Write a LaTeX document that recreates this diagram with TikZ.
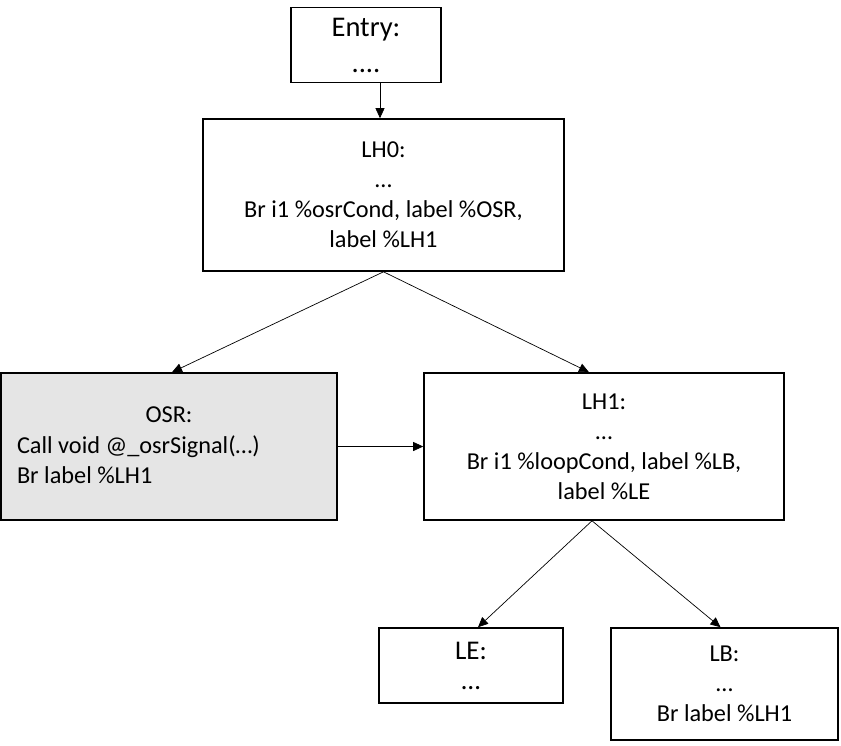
\documentclass[tikz,border=0pt]{standalone}
\usepackage{fontspec}
\setmainfont{Carlito}
\usetikzlibrary{arrows.meta}
\begin{document}
\begin{tikzpicture}[x=1pt,y=-1pt,
  block/.style={draw,line width=1.6pt,inner sep=0pt,align=center,
    font=\fontsize{24.3}{30}\selectfont},
  big/.style={font=\fontsize{28.5}{38}\selectfont},
  link/.style={line width=0.7pt,-{Triangle[length=10pt,width=9pt]}}]
\useasboundingbox (0,0) rectangle (841,745);

% basic blocks
\node[block,big,minimum width=150,minimum height=75] (entry) at (366,45) {Entry:\\[-2pt]....};
\node[block,minimum width=361,minimum height=152] (lh0) at (383.5,195)
  {LH0:\\…\\Br i1 \%osrCond, label \%OSR,\\label \%LH1};
\node[block,fill=black!10,minimum width=336,minimum height=147] (osr) at (169,446.5)
  {\begin{tabular}{@{}l@{}}\makebox[304pt]{OSR:}\\[1pt]Call void @\_osrSignal(…)\\Br label \%LH1\end{tabular}};
\node[block,minimum width=360,minimum height=147] (lh1) at (604,446.5)
  {LH1:\\…\\Br i1 \%loopCond, label \%LB,\\label \%LE};
\node[block,minimum width=184,minimum height=75,font=\fontsize{27}{30}\selectfont] (le) at (471,665.5)
  {LE:\\…};
\node[block,minimum width=227,minimum height=112] (lb) at (724.5,684)
  {LB:\\…\\Br label \%LH1};

% control-flow edges
\draw[link] ([xshift=14]entry.south) -- ([xshift=-3.5]lh0.north);
\draw[link] (lh0.south) -- ([xshift=3]osr.north);
\draw[link] (lh0.south) -- ([xshift=-15]lh1.north);
\draw[link] (osr.east) -- (lh1.west);
\draw[link] ([xshift=-12]lh1.south) -- ([xshift=7]le.north);
\draw[link] ([xshift=-12]lh1.south) -- ([xshift=-4]lb.north);
\end{tikzpicture}
\end{document}
